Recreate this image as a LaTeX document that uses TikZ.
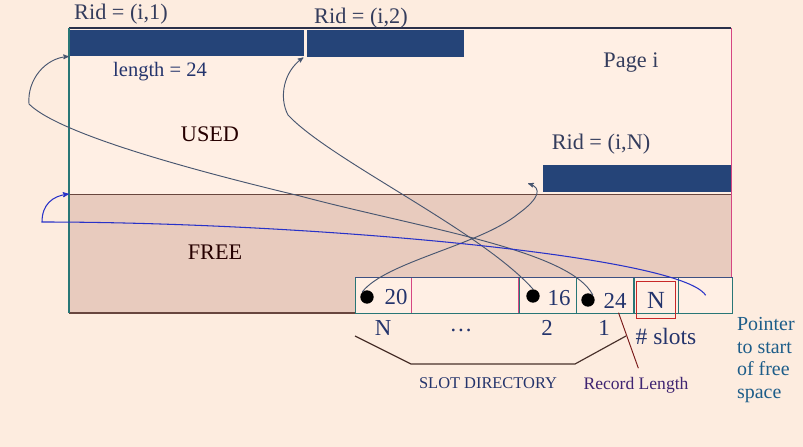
\documentclass[tikz,border=0pt]{standalone}
\usepackage{fontspec}
\setmainfont{Liberation Serif}
\usetikzlibrary{arrows}
\usetikzlibrary{positioning}
\definecolor{bgpeach}{RGB}{253,236,223}
\definecolor{usedpeach}{RGB}{255,239,228}
\definecolor{freepink}{RGB}{232,203,190}
\definecolor{barblue}{RGB}{37,68,120}
\definecolor{ridgray}{RGB}{52,60,92}
\definecolor{slotnavy}{RGB}{36,52,108}
\definecolor{slotteal}{RGB}{40,118,118}
\definecolor{slottop}{RGB}{60,80,130}
\definecolor{pinkline}{RGB}{214,70,130}
\definecolor{curvegray}{RGB}{72,86,112}
\definecolor{freeblue}{RGB}{40,50,200}
\definecolor{boxred}{RGB}{200,40,40}
\definecolor{framebrown}{RGB}{104,70,62}

\begin{document}
\begin{tikzpicture}[x=0.03cm,y=-0.03cm,
  record/.style={fill=barblue,anchor=north west,inner sep=0pt},
  slot/.style={draw=slotteal,fill=usedpeach,inner sep=0pt,minimum height=1.08cm},
  dot/.style={circle,fill=black,inner sep=0pt,minimum size=0.4cm},
  curve/.style={draw=curvegray,line width=0.8pt,->,>=stealth'},
  rid/.style={text=ridgray,font=\fontsize{19}{22}\selectfont},
  area/.style={text=black!85!red,font=\fontsize{19}{22}\selectfont},
  num/.style={text=slotnavy,font=\fontsize{19.5}{22}\selectfont}]
  \path[use as bounding box,fill=bgpeach] (0,0) rectangle (803,447);
  % page areas
  \fill[usedpeach] (69,28) rectangle (731,194);
  \fill[freepink] (69,194) rectangle (731,313);
  % records
  \node[record,minimum width=7.05cm,minimum height=0.78cm] (r1) at (69,30) {};
  \node[record,minimum width=4.71cm,minimum height=0.81cm] (r2) at (307,30) {};
  \node[record,minimum width=5.64cm,minimum height=0.81cm] (rN) at (543,165) {};
  % page frame
  \draw[framebrown,line width=0.6pt] (69,194) -- (731,194);
  \draw[framebrown,line width=1pt] (69,313) -- (355,313);
  \draw[ridgray!80!black,line width=1.2pt] (69,28) -- (731,28);
  \draw[slotteal,line width=1.2pt] (69,28) -- (69,313);
  \draw[pinkline,line width=0.8pt] (731,28) -- (731,313);
  % slot directory
  \node[slot,minimum width=1.68cm,anchor=north west] (sN) at (355,277) {};
  \node[slot,minimum width=3.21cm,right=0pt of sN] (sdots) {};
  \node[slot,minimum width=1.71cm,right=0pt of sdots] (s2) {};
  \node[slot,minimum width=1.71cm,right=0pt of s2] (s1) {};
  \node[slot,minimum width=1.32cm,right=0pt of s1] (scount) {};
  \node[slot,minimum width=1.62cm,right=0pt of scount] (sfree) {};
  \draw[pinkline,line width=0.8pt] (sdots.north west) -- (sdots.south west);
  \draw[pinkline,line width=0.8pt] (sdots.north east) -- (sdots.south east);
  \draw[slottop,line width=0.6pt] (sN.north west) -- (sfree.north east);

  \node[dot] (pN) at (367,297) {};
  \node[num] (tN) at (396,297) {20};
  \node[dot] (p2) at (533,296) {};
  \node[num] (t2) at (559,298) {16};
  \node[dot] (p1) at (588,300) {};
  \node[num] (t1) at (615,301) {24};
  \node[num,draw=boxred,line width=0.8pt,minimum width=1.17cm,minimum height=1.11cm,inner sep=0pt,font=\fontsize{21}{24}\selectfont] (nslots) at (656,300) {N};

  % labels
  \node[rid] (lr1) at (121,14) {Rid = (i,1)};
  \node[rid] (lr2) at (361,18) {Rid = (i,2)};
  \node[rid] (lrN) at (601,144) {Rid = (i,N)};
  \node[rid] (page) at (631,63) {Page i};
  \node[text=slotnavy,font=\fontsize{17.5}{20}\selectfont] (len) at (160,72) {length = 24};
  \node[area] (used) at (210,134) {USED};
  \node[area] (free) at (215,252) {FREE};

  \node[num] (bN) at (383,328) {N};
  \node[num] (bdots) at (461,330) {\dots};
  \node[num] (b2) at (547,328) {2};
  \node[num] (b1) at (604,328) {1};
  \node[text=slotnavy,font=\fontsize{20}{23}\selectfont] (bslots) at (666,336) {\# slots};
  \node[text=slotnavy,font=\fontsize{14}{17}\selectfont] (sdir) at (488,383) {SLOT DIRECTORY};
  \node[text=slotnavy!70!violet,font=\fontsize{15}{18}\selectfont] (rlen) at (636,385) {Record Length};
  \node[text=slotnavy!80!cyan,font=\fontsize{17}{19.5}\selectfont,align=left,anchor=west] (fptr) at (733,360) {Pointer\\to start\\of free\\space};

  % slot directory brace
  \draw[framebrown!70!black,line width=1pt] (355,336) -- (411,364) -- (575,364) -- (626,336);
  \draw[boxred!60!black,line width=0.8pt] ([xshift=3pt]t1.south) -- ([xshift=2pt,yshift=4pt]rlen.north);

  % slot pointers
  \draw[curve] (p1.north east) .. controls (570,250) and (420,228) .. (300,196)
    .. controls (200,172) and (60,135) .. (29,104)
    .. controls (27,80) and (45,58) .. (r1.south west);
  \draw[curve] (p2.north) .. controls (480,230) and (330,160) .. (288,115)
    .. controls (279,98) and (283,72) .. ([xshift=-3pt]r2.south west);
  \draw[curve] (pN.north west) .. controls (385,262) and (480,245) .. (518,214)
    .. controls (540,198) and (542,188) .. ([xshift=-0.45cm,yshift=0.27cm]rN.south west);
  \draw[freeblue,line width=0.9pt,->,>=stealth'] (sfree.center) .. controls (680,255) and (300,222) .. (42,222)
    .. controls (42,205) and (52,196) .. (69,194);
\end{tikzpicture}
\end{document}
